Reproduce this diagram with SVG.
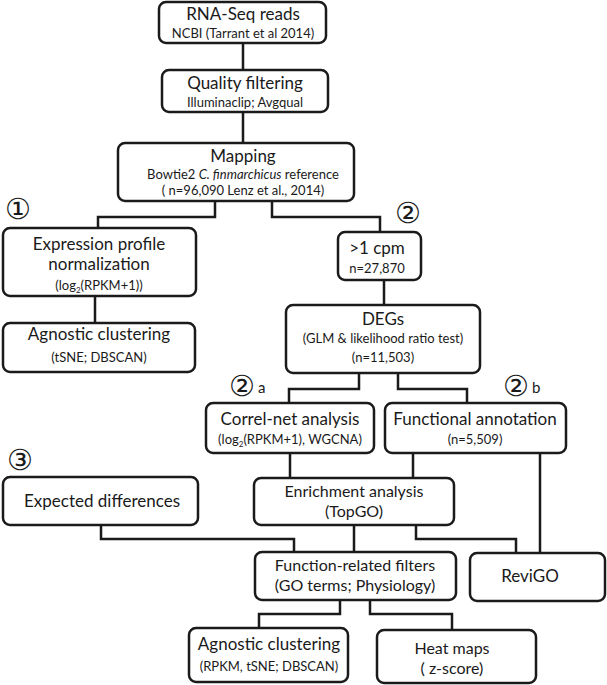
<svg xmlns="http://www.w3.org/2000/svg" width="607" height="685" viewBox="0 0 607 685">
<style>
.b{fill:#fff;stroke:#1a1a1a;stroke-width:2.5}
.c{fill:none;stroke:#1a1a1a;stroke-width:2.5}
text{font-family:Lato,"Open Sans",sans-serif;fill:#1a1a1a;text-anchor:middle}
.t{font-size:17px}
.u{font-size:16px}
.s{font-size:13px}
.n{font-size:29px;font-family:"DejaVu Sans",sans-serif}
.l{font-size:15px;text-anchor:start}
</style>
<g id="connectors">
<path class="c" d="M243 43V70M243 112V143M215 201V217H98V228M272 201V217H380V232M95 296V323M384 280V305M359 373V389H289V403M398 373V389H467V403M290 453V478M413 453V478M540 453V553M354 525V552M416 525V539H516V553M101 525V539H294V552M340 600V614H259V628M370 600V614H452V630"/>
</g>
<g id="rna"><rect class="b" x="159" y="2" width="167" height="41" rx="7"/><text class="t" x="243" y="20">RNA-Seq reads</text><text class="s" x="243" y="38">NCBI (Tarrant et al 2014)</text></g>
<g id="quality"><rect class="b" x="162" y="70" width="166" height="42" rx="7"/><text class="t" x="245" y="89">Quality filtering</text><text class="s" x="245" y="107">Illuminaclip; Avgqual</text></g>
<g id="mapping"><rect class="b" x="118" y="143" width="236" height="58" rx="7"/><text class="t" x="243" y="162">Mapping</text><text class="s" x="243" y="179">Bowtie2 <tspan font-style="italic">C. finmarchicus</tspan> reference</text><text class="s" x="243" y="195">( n=96,090 Lenz et al., 2014)</text></g>
<text class="n" x="18" y="219">①</text>
<text class="n" x="408" y="223">②</text>
<g id="expr"><rect class="b" x="3" y="228" width="193" height="68" rx="7"/><text class="t" x="99" y="250">Expression profile</text><text class="t" x="99" y="270">normalization</text><text class="s" x="99" y="290">(log<tspan font-size="8" dy="3">2</tspan><tspan dy="-3">(RPKM+1))</tspan></text></g>
<g id="cpm"><rect class="b" x="338" y="232" width="83" height="48" rx="7"/><text class="t" x="377" y="254" >&gt;1 cpm</text><text class="s" x="377" y="273">n=27,870</text></g>
<g id="agn1"><rect class="b" x="3" y="323" width="192" height="49" rx="7"/><text class="t" x="99" y="340">Agnostic clustering</text><text class="s" x="99" y="362">(tSNE; DBSCAN)</text></g>
<g id="degs"><rect class="b" x="286" y="305" width="194" height="68" rx="7"/><text class="t" x="383" y="325">DEGs</text><text class="s" x="383" y="343">(GLM &amp; likelihood ratio test)</text><text class="s" x="383" y="362">(n=11,503)</text></g>
<text class="n" x="242" y="396">②</text><text class="l" x="258" y="393">a</text>
<text class="n" x="516" y="396">②</text><text class="l" x="532" y="393">b</text>
<g id="correl"><rect class="b" x="206" y="403" width="168" height="50" rx="7"/><text class="t" x="290" y="425">Correl-net analysis</text><text class="s" x="290" y="444">(log<tspan font-size="8" dy="3">2</tspan><tspan dy="-3">(RPKM+1), WGCNA)</tspan></text></g>
<g id="func"><rect class="b" x="385" y="403" width="181" height="50" rx="7"/><text class="t" x="475" y="425">Functional annotation</text><text class="s" x="475" y="444">(n=5,509)</text></g>
<text class="n" x="20" y="470">③</text>
<g id="expected"><rect class="b" x="3" y="477" width="195" height="48" rx="7"/><text class="t" x="102" y="507">Expected differences</text></g>
<g id="enrich"><rect class="b" x="254" y="478" width="200" height="47" rx="7"/><text class="u" x="354" y="497">Enrichment analysis</text><text class="u" x="354" y="517">(TopGO)</text></g>
<g id="filters"><rect class="b" x="255" y="552" width="201" height="48" rx="7"/><text class="u" x="355" y="571">Function-related filters</text><text class="u" x="355" y="591">(GO terms; Physiology)</text></g>
<g id="revigo"><rect class="b" x="470" y="553" width="135" height="48" rx="7"/><text class="t" x="530" y="582">ReviGO</text></g>
<g id="agn2"><rect class="b" x="189" y="628" width="159" height="54" rx="7"/><text class="t" x="269" y="650">Agnostic clustering</text><text class="s" x="269" y="671">(RPKM, tSNE; DBSCAN)</text></g>
<g id="heat"><rect class="b" x="377" y="630" width="159" height="53" rx="7"/><text class="u" x="452" y="654">Heat maps</text><text class="u" x="452" y="674">( z-score)</text></g>
</svg>
